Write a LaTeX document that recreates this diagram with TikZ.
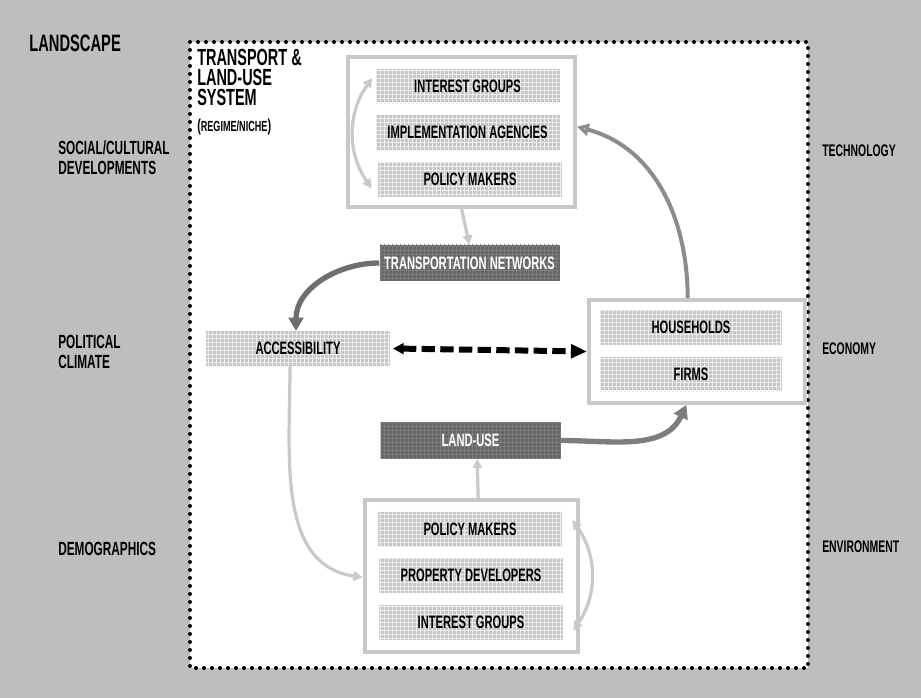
\documentclass[tikz,border=0pt]{standalone}
\usepackage{fontspec}
\setmainfont{Liberation Sans Bold}[FakeStretch=0.62]
\usetikzlibrary{arrows.meta,patterns}

\definecolor{landgray}{HTML}{BEBEBE}
\definecolor{boxlight}{HTML}{C6C6C6}
\definecolor{boxdark}{HTML}{666666}
\definecolor{framegray}{HTML}{C8C8C8}
\definecolor{softgray}{HTML}{C9C9C9}
\definecolor{midgray}{HTML}{8C8C8C}
\definecolor{deepgray}{HTML}{6E6E6E}

\tikzset{
  label text/.style={font=\fontsize{12.6}{15}\selectfont, align=left, inner sep=0pt},
  title text/.style={font=\fontsize{17.5}{15}\selectfont, inner sep=0pt, anchor=base west},
  actorbox/.style={fill=boxlight, postaction={pattern=grid, pattern color=white!70!boxlight},
    minimum width=138pt, minimum height=26pt, inner sep=0pt,
    font=\fontsize{13.5}{15}\selectfont},
  systembox/.style={fill=boxdark, postaction={pattern=grid, pattern color=boxdark!85!white},
    text=white, minimum width=135pt, minimum height=27pt, inner sep=0pt,
    font=\fontsize{13.5}{15}\selectfont},
  groupbox/.style={draw=framegray, line width=3pt, fill=white, inner sep=0pt},
  softarrow/.style={draw=softgray, line width=2.4pt, -{Triangle[length=7pt,width=7pt,fill=softgray!80!white]}},
  softdouble/.style={draw=softgray, line width=2.4pt, {Triangle[length=7pt,width=7pt]}-{Triangle[length=7pt,width=7pt]}},
  midarrow/.style={draw=midgray, line width=3pt, -{Triangle[length=9pt,width=9pt,fill=softgray]}},
  deeparrow/.style={draw=deepgray, line width=4pt, -{Triangle[length=10pt,width=11pt]}},
}

\begin{document}
\begin{tikzpicture}[x=0.75pt,y=-0.75pt]
\useasboundingbox (0,0) rectangle (921,698);
\fill [landgray] (0,0) rectangle (921,698);

% regime / niche frame
\fill [white] (190,42) rectangle (808,668);
\draw [line width=3pt, dash pattern=on 0pt off 6pt, line cap=round] (190,42) rectangle (808,668);

% landscape labels
\node [label text, anchor=west, font=\fontsize{17.8}{18}\selectfont] (landscape) at (29,43.5) {LANDSCAPE};
\node [label text, anchor=west, font=\fontsize{14.3}{15}\selectfont] (social) at (58,158) {SOCIAL/CULTURAL\\DEVELOPMENTS};
\node [label text, anchor=west, font=\fontsize{14.3}{15}\selectfont] (political) at (58,352) {POLITICAL\\CLIMATE};
\node [label text, anchor=west, font=\fontsize{14.3}{15}\selectfont] (demog) at (58,549) {DEMOGRAPHICS};
\node [label text, anchor=west] (tech) at (822,151) {TECHNOLOGY};
\node [label text, anchor=west] (econ) at (822,349) {ECONOMY};
\node [label text, anchor=west] (env) at (822,547) {ENVIRONMENT};

% system title
\node [title text] (title1) at (197,65.5) {TRANSPORT \&};
\node [title text] (title2) at (197,85.5) {LAND-USE};
\node [title text] (title3) at (197,105.5) {SYSTEM};
\node [label text, anchor=west, font=\fontsize{11}{11}\selectfont] (regime) at (197,127) {{\fontsize{13}{13}\selectfont(}REGIME/NICHE{\fontsize{13}{13}\selectfont)}};

% top actors
\node [groupbox, minimum width=170pt, minimum height=112.5pt] (top) at (461.5,132) {};
\node [actorbox] (ig1) at (467.5,86) {INTEREST GROUPS};
\node [actorbox] (ia) at (467.5,132.5) {IMPLEMENTATION AGENCIES};
\node [actorbox] (pm1) at (470,179.5) {POLICY MAKERS};

% transport and land-use
\node [systembox] (tn) at (469.5,263) {TRANSPORTATION NETWORKS};
\node [systembox] (lu) at (470.5,440.5) {LAND-USE};
\node [actorbox] (acc) at (298,348.5) {ACCESSIBILITY};

% households and firms
\node [groupbox, minimum width=162pt, minimum height=77pt] (hf) at (697,351.5) {};
\node [actorbox, minimum width=136.5pt] (hh) at (691,327.5) {HOUSEHOLDS};
\node [actorbox, minimum width=136.5pt] (firms) at (691,374) {FIRMS};

% bottom actors
\node [groupbox, minimum width=160pt, minimum height=114pt] (bot) at (471.5,576) {};
\node [actorbox] (pm2) at (470,529) {POLICY MAKERS};
\node [actorbox] (pd) at (471,575.5) {PROPERTY DEVELOPERS};
\node [actorbox] (ig2) at (471,622.5) {INTEREST GROUPS};

% connectors
\draw [softdouble] ([shift={(-3,-8)}]ig1.west) to[bend right=35] ([shift={(-6,9)}]pm1.west);
\draw [softdouble] ([shift={(10,-9)}]pm2.east) to[bend left=35] ([shift={(10,8)}]ig2.east);
\draw [softarrow] (top.south) -- (tn.north);
\draw [softarrow] ([xshift=5pt]bot.north) -- ([xshift=5pt]lu.south);
\draw [deeparrow] (tn.west) to[out=180,in=90] ([xshift=-1.5pt]acc.north);
\draw [midarrow] ([xshift=-7pt]hf.north) to[out=90,in=-15] ([yshift=4pt]top.east);
\draw [deeparrow, draw=deepgray!90!white] (lu.east) to[out=0,in=-115] ([xshift=-8pt]hf.south);
\draw [softarrow] ([xshift=-6pt]acc.south) to[out=-90,in=172] ([yshift=-1pt]bot.west);
\draw [line width=4.5pt, dash pattern=on 10pt off 4pt, {Triangle[length=8pt,width=8pt]}-{Triangle[length=12pt,width=10pt]}] ([xshift=2pt]acc.east) -- (hf.west);
\end{tikzpicture}
\end{document}
